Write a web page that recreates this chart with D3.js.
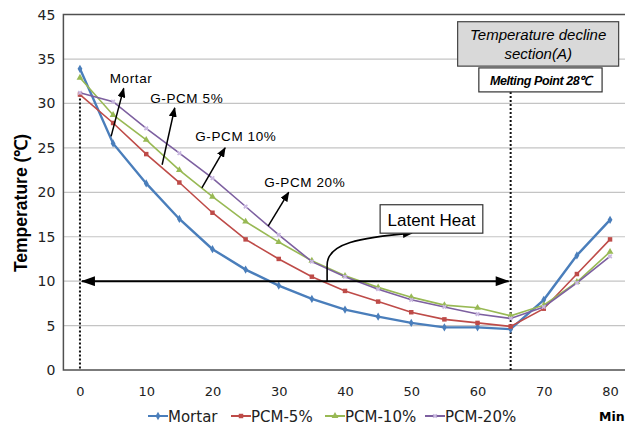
<!DOCTYPE html>
<html>
<head>
<meta charset="utf-8">
<script src="https://cdn.jsdelivr.net/npm/d3@7"></script>
<style>
  body { margin: 0; background: #fff; }
  svg { display: block; }
</style>
</head>
<body>
<div id="chart"></div>
<script>
// Data
const minutes = [0, 5, 10, 15, 20, 25, 30, 35, 40, 45, 50, 55, 60, 65, 70, 75, 80];
const mortar = [33.9, 25.5, 21.0, 17.0, 13.6, 11.3, 9.5, 8.0, 6.8, 6.0, 5.3, 4.8, 4.8, 4.6, 7.9, 12.9, 16.9];
const pcm5 = [31.0, 27.8, 24.3, 21.1, 17.7, 14.7, 12.5, 10.5, 8.9, 7.7, 6.5, 5.7, 5.3, 4.9, 6.9, 10.8, 14.7];
const pcm10 = [32.9, 28.7, 25.9, 22.5, 19.5, 16.7, 14.4, 12.3, 10.6, 9.3, 8.2, 7.3, 7.0, 6.1, 7.3, 9.9, 13.3];
const pcm20 = [31.2, 30.2, 27.2, 24.4, 21.6, 18.4, 15.2, 12.2, 10.5, 9.1, 7.9, 7.1, 6.3, 5.8, 7.1, 9.8, 12.8];
const seriesNames = ["Mortar", "PCM-5%", "PCM-10%", "PCM-20%"];
const xTicks = [0, 10, 20, 30, 40, 50, 60, 70, 80];
const yTicks = [0, 5, 10, 15, 20, 25, 30, 35, 40];
const yTickLabels = ["0", "5", "10", "15", "20", "25", "30", "35", "45"];

const width = 625;
const height = 428;

const svg = d3.select("#chart")
    .append("svg")
    .attr("width", width)
    .attr("height", height);

// Excel-style category axis: half a step of padding on each side
const x = d3.scaleLinear().domain([-2.5, 82.5]).range([63.4, 626.6]);
const y = d3.scaleLinear().domain([0, 40]).range([370, 14.6]);

const colors = ["#4a7ebb", "#be4b48", "#98b954", "#7d60a0"];
const symbols = [d3.symbolDiamond, d3.symbolSquare, d3.symbolTriangle, d3.symbolCross];

// arrow heads
const defs = svg.append("defs");
defs.append("marker")
    .attr("id", "bigHead")
    .attr("markerUnits", "userSpaceOnUse")
    .attr("viewBox", "0 0 14 10")
    .attr("refX", 13).attr("refY", 5)
    .attr("markerWidth", 15).attr("markerHeight", 10)
    .attr("orient", "auto-start-reverse")
    .append("path").attr("d", "M0,0 L14,5 L0,10 Z").attr("fill", "#000");
defs.append("marker")
    .attr("id", "smallHead")
    .attr("markerUnits", "userSpaceOnUse")
    .attr("viewBox", "0 0 10 8")
    .attr("refX", 9).attr("refY", 4)
    .attr("markerWidth", 10).attr("markerHeight", 8)
    .attr("orient", "auto")
    .append("path").attr("d", "M0,0 L10,4 L0,8 Z").attr("fill", "#000");

// gridlines
svg.append("g")
    .selectAll("line")
    .data(yTicks.slice(1, -1))
    .enter().append("line")
    .attr("x1", x(-2.5)).attr("x2", width)
    .attr("y1", d => y(d)).attr("y2", d => y(d))
    .attr("stroke", "#c4c4c4").attr("stroke-width", 1.2);

// plot frame
svg.append("path")
    .attr("d", `M${width},${y(40)} L${x(-2.5)},${y(40)} L${x(-2.5)},${y(0)} L${width},${y(0)}`)
    .attr("fill", "none").attr("stroke", "#505050").attr("stroke-width", 1.5);

// axes
const yAxis = svg.append("g")
    .attr("transform", `translate(${x(-2.5)},0)`)
    .call(d3.axisLeft(y).tickValues(yTicks).tickSize(0).tickPadding(8)
        .tickFormat((d, i) => yTickLabels[i]));
yAxis.select(".domain").remove();
yAxis.selectAll("text")
    .attr("font-family", "DejaVu Sans, Verdana, sans-serif")
    .attr("font-size", 14).attr("fill", "#222");

const xAxis = svg.append("g")
    .attr("transform", `translate(0,${y(0)})`)
    .call(d3.axisBottom(x).tickValues(xTicks).tickSize(0).tickPadding(17));
xAxis.select(".domain").remove();
xAxis.selectAll("text")
    .attr("font-family", "DejaVu Sans, Verdana, sans-serif")
    .attr("font-size", 13).attr("fill", "#222");

svg.append("text")
    .attr("transform", `translate(27,${y(18.8)}) rotate(-90)`)
    .attr("text-anchor", "middle")
    .attr("font-family", "Liberation Sans, Arial, sans-serif")
    .attr("font-weight", "bold").attr("font-size", 17.5)
    .text("Temperature (℃)");

svg.append("text")
    .attr("x", 599).attr("y", 421)
    .attr("font-family", "DejaVu Sans, Verdana, sans-serif")
    .attr("font-weight", "bold").attr("font-size", 12.5)
    .text("Min");

// dotted reference lines
svg.append("line")
    .attr("x1", x(0)).attr("x2", x(0))
    .attr("y1", y(31)).attr("y2", y(0))
    .attr("stroke", "#111").attr("stroke-width", 2).attr("stroke-dasharray", "2,2");
svg.append("line")
    .attr("x1", x(65)).attr("x2", x(65))
    .attr("y1", y(31.3)).attr("y2", y(0))
    .attr("stroke", "#111").attr("stroke-width", 2).attr("stroke-dasharray", "2,2");

// series lines and markers
const series = [mortar, pcm5, pcm10, pcm20];
const line = d3.line().x((d, i) => x(minutes[i])).y(d => y(d));

series.forEach((vals, s) => {
    const g = svg.append("g");
    g.append("path")
        .datum(vals)
        .attr("d", line)
        .attr("fill", "none")
        .attr("stroke", colors[s])
        .attr("stroke-width", s === 0 ? 2.4 : 1.6);
    g.selectAll("path.pt")
        .data(vals)
        .enter().append("path")
        .attr("class", "pt")
        .attr("transform", (d, i) => `translate(${x(minutes[i])},${y(d)})` + (s === 3 ? " rotate(45)" : ""))
        .attr("d", d3.symbol().type(symbols[s]).size(s === 3 ? 14 : 20))
        .attr("fill", s === 3 ? "#c9b8e0" : colors[s]);
});

// latent heat double arrow
svg.append("line")
    .attr("x1", x(0.3)).attr("x2", x(64.7))
    .attr("y1", y(10)).attr("y2", y(10))
    .attr("stroke", "#000").attr("stroke-width", 2)
    .attr("marker-start", "url(#bigHead)")
    .attr("marker-end", "url(#bigHead)");

svg.append("path")
    .attr("d", `M${x(37.3)},${y(9.9)} L${x(37.3)},${y(11.8)} C${x(37.3)},${y(14.3)} ${x(42.3)},${y(14.9)} ${x(50.1)},${y(15.4)}`)
    .attr("fill", "none").attr("stroke", "#000").attr("stroke-width", 1.6)
    .attr("marker-end", "url(#smallHead)");

svg.append("rect")
    .attr("x", x(45.3)).attr("y", y(18.6))
    .attr("width", x(60.8) - x(45.3)).attr("height", y(15.4) - y(18.6))
    .attr("fill", "#fff").attr("stroke", "#333").attr("stroke-width", 1.2);
svg.append("text")
    .attr("x", x(53.05)).attr("y", y(16.2))
    .attr("text-anchor", "middle")
    .attr("font-family", "Liberation Sans, Arial, sans-serif")
    .attr("font-size", 17)
    .text("Latent Heat");

// series labels with arrows
const labelTexts = ["Mortar", "G-PCM 5%", "G-PCM 10%", "G-PCM 20%"];
const labelPos = [[4.5, 32.3], [10.6, 30.05], [17.4, 25.8], [27.8, 20.6]];
const labelArrows = [
    [[4.7, 26.3], [6.6, 31.7]],
    [[12.4, 23.1], [14.3, 29.5]],
    [[18.4, 20.5], [21.9, 25.0]],
    [[28.4, 16.2], [31.5, 20.0]]
];
labelTexts.forEach((t, i) => {
    svg.append("text")
        .attr("x", x(labelPos[i][0])).attr("y", y(labelPos[i][1]))
        .attr("font-family", "Liberation Sans, Arial, sans-serif")
        .attr("font-size", 13.5).attr("letter-spacing", 0.6)
        .text(t);
    svg.append("line")
        .attr("x1", x(labelArrows[i][0][0])).attr("y1", y(labelArrows[i][0][1]))
        .attr("x2", x(labelArrows[i][1][0])).attr("y2", y(labelArrows[i][1][1]))
        .attr("stroke", "#000").attr("stroke-width", 1.5)
        .attr("marker-end", "url(#smallHead)");
});

// section boxes
svg.append("rect")
    .attr("x", x(57.0)).attr("y", y(39.2))
    .attr("width", x(81.3) - x(57.0)).attr("height", y(34.2) - y(39.2))
    .attr("fill", "#d9d9d9").attr("stroke", "#444").attr("stroke-width", 1.2);
svg.append("text")
    .attr("x", x(69.15)).attr("y", y(37.15))
    .attr("text-anchor", "middle")
    .attr("font-family", "Liberation Sans, Arial, sans-serif")
    .attr("font-style", "italic").attr("font-size", 15)
    .text("Temperature decline");
svg.append("text")
    .attr("x", x(69.15)).attr("y", y(34.95))
    .attr("text-anchor", "middle")
    .attr("font-family", "Liberation Sans, Arial, sans-serif")
    .attr("font-style", "italic").attr("font-size", 15)
    .text("section(A)");

svg.append("rect")
    .attr("x", x(60.2)).attr("y", y(34.0))
    .attr("width", x(78.8) - x(60.2)).attr("height", y(31.3) - y(34.0))
    .attr("fill", "#fff").attr("stroke", "#333").attr("stroke-width", 1.2);
svg.append("text")
    .attr("x", x(69.5)).attr("y", y(32.1))
    .attr("text-anchor", "middle")
    .attr("font-family", "Liberation Sans, Arial, sans-serif")
    .attr("font-style", "italic").attr("font-weight", "bold")
    .attr("font-size", 12.5).attr("letter-spacing", -0.4)
    .text("Melting Point 28℃");

// legend
const legendX = [148, 231, 325, 425];
const legend = svg.append("g").attr("transform", "translate(0,416)");
seriesNames.forEach((name, i) => {
    const g = legend.append("g").attr("transform", `translate(${legendX[i]},0)`);
    g.append("line").attr("x1", 0).attr("x2", 20).attr("y1", 0).attr("y2", 0)
        .attr("stroke", colors[i]).attr("stroke-width", 2);
    g.append("path")
        .attr("transform", "translate(10,0)" + (i === 3 ? " rotate(45)" : ""))
        .attr("d", d3.symbol().type(symbols[i]).size(i === 3 ? 14 : 20))
        .attr("fill", i === 3 ? "#c9b8e0" : colors[i]);
    g.append("text")
        .attr("x", 20).attr("y", 5.5)
        .attr("font-family", "DejaVu Sans, Verdana, sans-serif")
        .attr("font-size", 15).attr("fill", "#222")
        .text(name);
});
</script>
</body>
</html>
